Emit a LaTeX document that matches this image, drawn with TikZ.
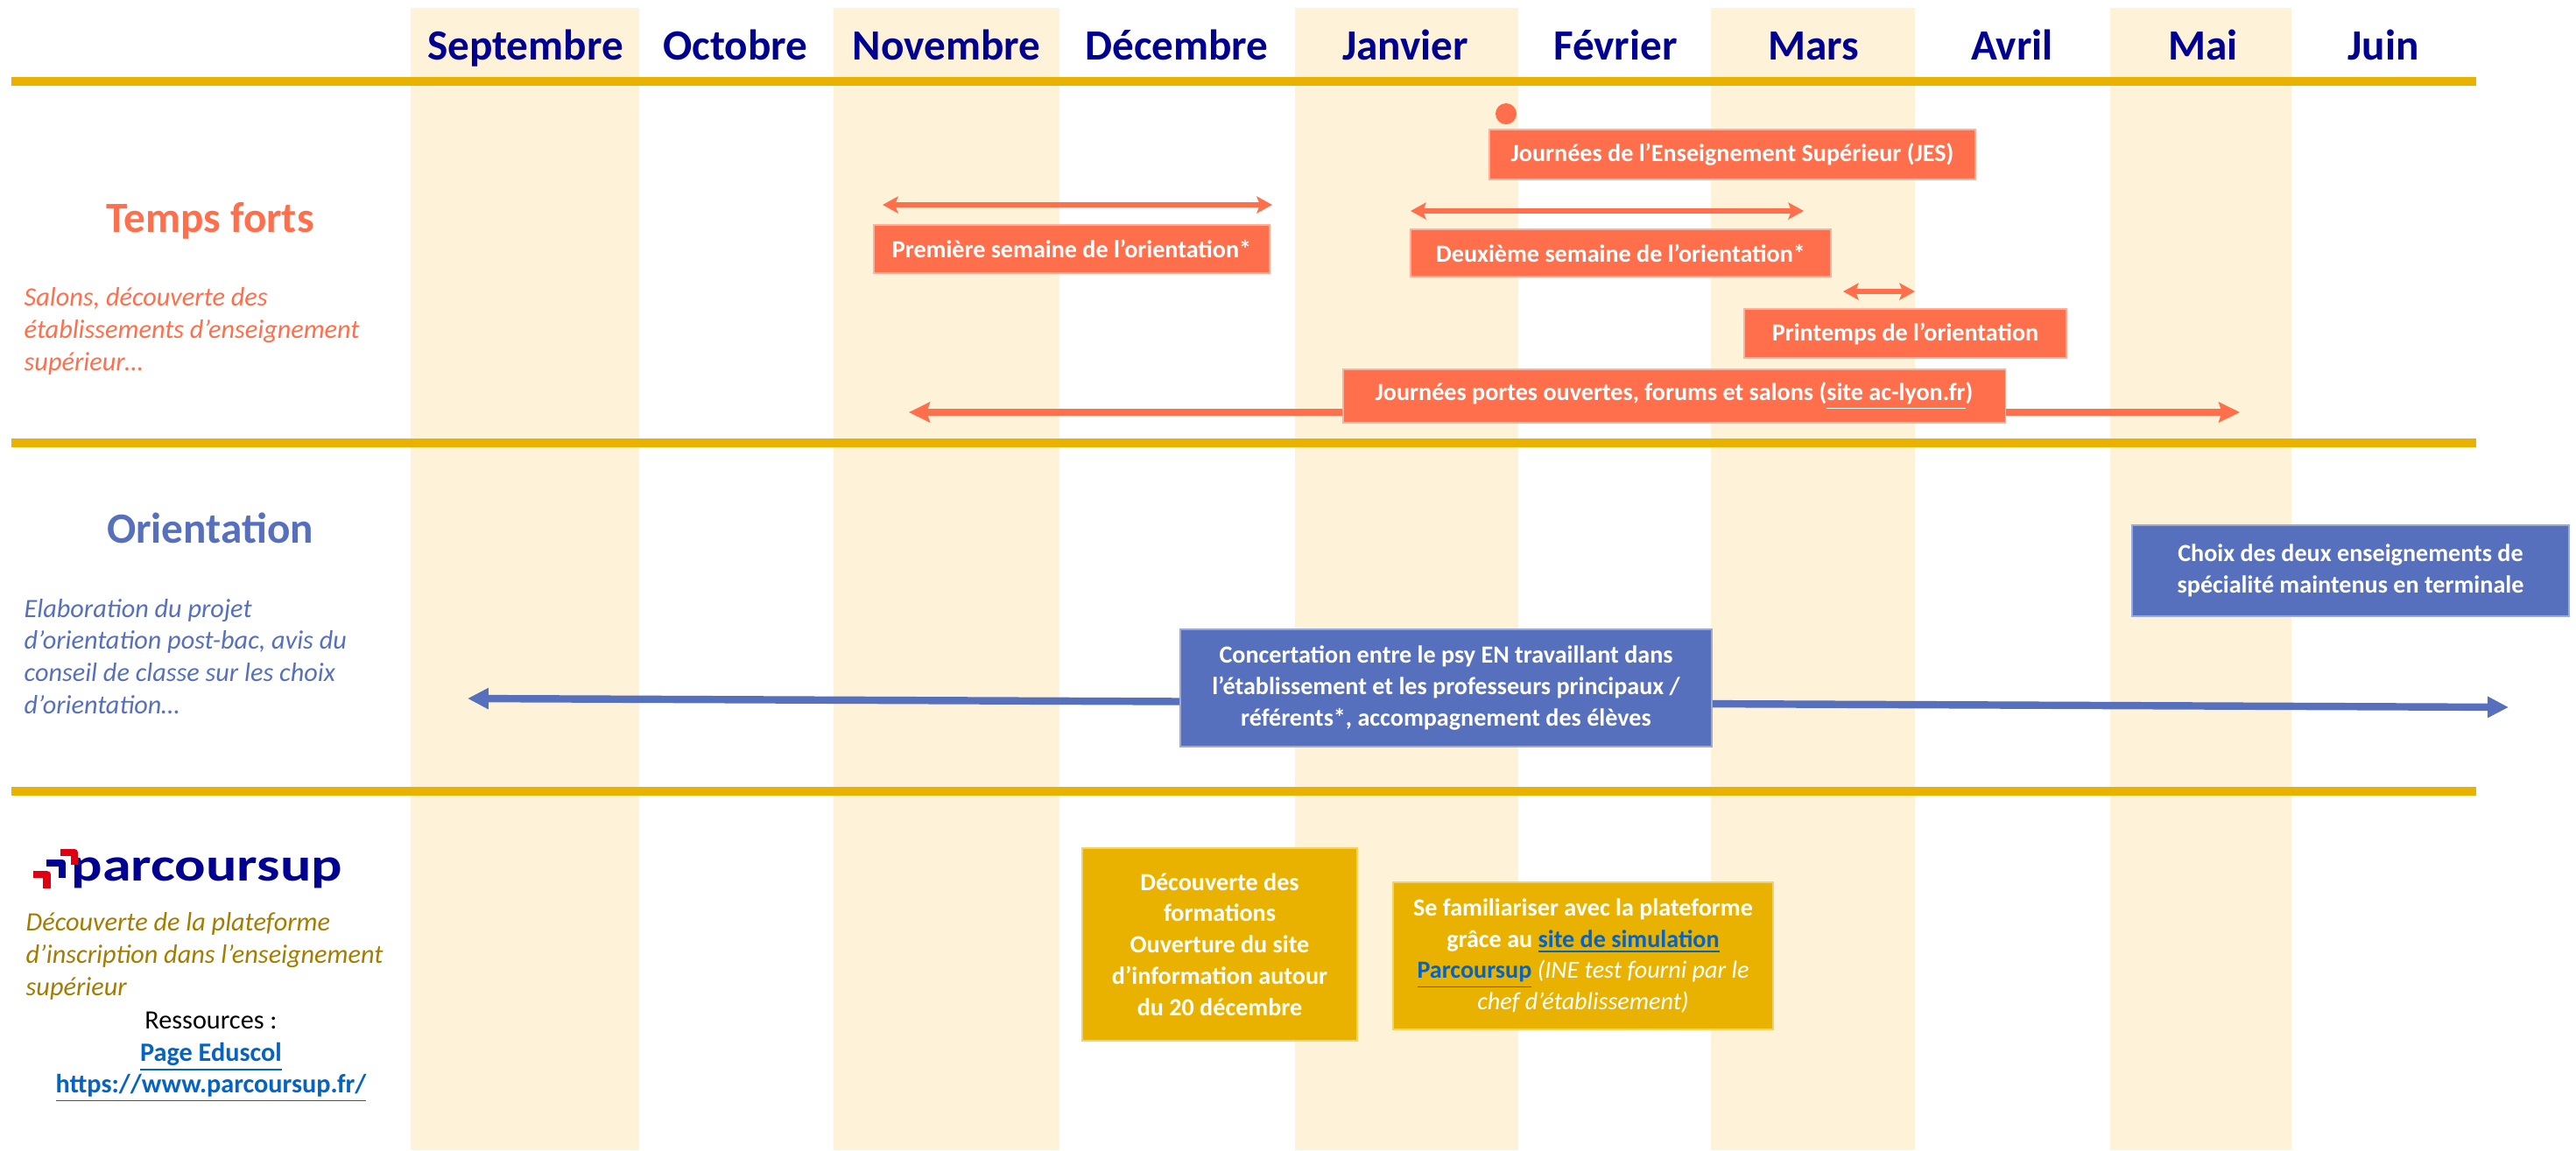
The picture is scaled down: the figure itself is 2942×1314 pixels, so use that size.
\documentclass[tikz,border=0pt]{standalone}
\usepackage{fontspec}
\setmainfont{Carlito}
\usetikzlibrary{arrows.meta}
\definecolor{jauneligne}{RGB}{234,178,0}
\definecolor{creme}{RGB}{254,243,216}
\definecolor{corail}{RGB}{255,111,76}
\definecolor{bleuori}{RGB}{87,112,190}
\definecolor{bleufr}{RGB}{0,0,145}
\definecolor{ocre}{RGB}{164,124,0}
\definecolor{lien}{RGB}{5,99,193}
\definecolor{rougefr}{RGB}{225,0,15}
\begin{document}
\begin{tikzpicture}[x=0.01cm,y=-0.01cm,
  regle/.style={draw=jauneligne,line width=2.6pt},
  mois/.style={anchor=base,inner sep=0pt,text=bleufr,font=\fontsize{14}{17}\selectfont\bfseries},
  titre/.style={anchor=base,inner sep=0pt,font=\fontsize{14}{17}\selectfont\bfseries},
  legende/.style={anchor=base west,inner sep=0pt,align=left,font=\fontsize{8.6}{10.4}\selectfont\itshape},
  boite/.style={inner sep=0pt,align=center,text=white,font=\fontsize{8}{10.2}\selectfont\bfseries},
  bcor/.style={boite,fill=corail,draw=corail!55!white,line width=0.4pt},
  bble/.style={boite,fill=bleuori,draw=bleuori!60!white,line width=0.4pt},
  bjau/.style={boite,fill=jauneligne,draw=jauneligne!60!white,line width=0.4pt},
  flcor/.style={draw=corail,line width=1.7pt,{Stealth[length=5pt,width=5.4pt,inset=1pt]}-{Stealth[length=5pt,width=5.4pt,inset=1pt]}},
  flsal/.style={draw=corail,line width=2.3pt,{Stealth[length=6.8pt,width=6.5pt,inset=1pt]}-{Stealth[length=6.8pt,width=6.5pt,inset=1pt]}},
  flble/.style={draw=bleuori,line width=2.4pt,{Triangle[length=6.8pt,width=6.5pt]}-{Triangle[length=6.8pt,width=6.5pt]}},
  crochet/.style={line width=2.4pt,line join=round}]
\useasboundingbox (0,0) rectangle (2942,1314);
\fill[white] (0,0) rectangle (2942,1314);

\fill[creme] (469,9) rectangle (730,1314);
\fill[creme] (952,9) rectangle (1210,1314);
\fill[creme] (1479,9) rectangle (1734,1314);
\fill[creme] (1954,9) rectangle (2187,1314);
\fill[creme] (2410,9) rectangle (2617,1314);

\path[draw,regle] (13,93) -- (2828,93);
\path[draw,regle] (13,506) -- (2828,506);
\path[draw,regle] (13,904) -- (2828,904);

\node[mois] (sep) at (600,68) {Septembre};
\node[mois] (oct) at (840,68) {Octobre};
\node[mois] (nov) at (1081,68) {Novembre};
\node[mois] (dec) at (1344,68) {Décembre};
\node[mois] (jan) at (1605,68) {Janvier};
\node[mois] (fev) at (1845,68) {Février};
\node[mois] (mar) at (2071,68) {Mars};
\node[mois] (avr) at (2298,68) {Avril};
\node[mois] (mai) at (2516,68) {Mai};
\node[mois] (jun) at (2722,68) {Juin};

\node[titre,text=corail] (tf) at (240,265) {Temps forts};
\node[legende,text=corail] (tf-txt) at (27,423) {Salons, découverte des\\établissements d’enseignement\\supérieur…};
\node[titre,text=bleuori] (ori) at (240,620) {Orientation};
\node[legende,text=bleuori] (ori-txt) at (27,815) {Elaboration du projet\\d’orientation post-bac, avis du\\conseil de classe sur les choix\\d’orientation…};

\node[anchor=base west,inner sep=0pt,text=bleufr,font=\fontsize{15.3}{18}\selectfont\bfseries] (logo) at (81,1006) {\scalebox{1.23}[1]{parcoursup}};
\draw[crochet,rougefr] (69,974) -- (85,974) -- (85,988);
\draw[crochet,bleufr] (53,986) -- (71,986) -- (71,1003);
\draw[crochet,rougefr] (38,999) -- (53.5,999) -- (53.5,1015);
\node[legende,text=ocre] (ps-txt) at (29,1137) {Découverte de la plateforme\\d’inscription dans l’enseignement\\supérieur};
\node[anchor=base,inner sep=0pt,font=\fontsize{8.6}{10.4}\selectfont] (res) at (241,1175) {Ressources :};
\node[anchor=base,inner sep=0pt,text=lien,font=\fontsize{8.6}{10.4}\selectfont\bfseries] (edu) at (241,1212) {\underline{Page Eduscol}};
\node[anchor=base,inner sep=0pt,text=lien,font=\fontsize{8.6}{10.4}\selectfont\bfseries] (url) at (241,1248) {\underline{https://www.parcoursup.fr/}};

\coordinate (pso-g) at (1008,234);
\coordinate (pso-d) at (1453,234);
\coordinate (dso-g) at (1611,241);
\coordinate (dso-d) at (2060,241);
\coordinate (pri-g) at (2105,333);
\coordinate (pri-d) at (2187,333);
\coordinate (jpo-g) at (1038,471);
\coordinate (jpo-d) at (2558,471);
\coordinate (con-g) at (534,798);
\coordinate (con-d) at (2865,808);

\draw[flcor] (pso-g) -- (pso-d);
\draw[flcor] (dso-g) -- (dso-d);
\draw[flcor] (pri-g) -- (pri-d);
\draw[flsal] (jpo-g) -- (jpo-d);
\draw[flble] (con-g) -- (con-d);

\node[circle,fill=corail,minimum size=0.24cm,inner sep=0pt] (jes-pt) at (1720,130) {};
\node[bcor,minimum width=5.55cm,minimum height=0.57cm] (jes) at (1978.5,176.5) {Journées de l’Enseignement Supérieur (JES)};
\node[bcor,minimum width=4.52cm,minimum height=0.55cm] (pso) at (1224,284.5) {Première semaine de l’orientation*};
\node[bcor,minimum width=4.80cm,minimum height=0.54cm] (dso) at (1851,289) {Deuxième semaine de l’orientation*};
\node[bcor,minimum width=3.68cm,minimum height=0.56cm] (pri) at (2176,381) {Printemps de l’orientation};
\node[bcor,minimum width=7.56cm,minimum height=0.61cm] (jpo) at (1912,452.5) {Journées portes ouvertes, forums et salons (\underline{site ac-lyon.fr})};

\node[bble,minimum width=6.07cm,minimum height=1.34cm] (con) at (1651.5,786) {Concertation entre le psy EN travaillant dans\\l’établissement et les professeurs principaux /\\référents*, accompagnement des élèves};
\node[bble,minimum width=4.99cm,minimum height=1.04cm] (spe) at (2684.5,652) {Choix des deux enseignements de\\spécialité maintenus en terminale};

\node[bjau,minimum width=3.14cm,minimum height=2.20cm] (form) at (1393,1079) {Découverte des\\formations\\Ouverture du site\\d’information autour\\du 20 décembre};
\node[bjau,minimum width=4.34cm,minimum height=1.68cm] (simu) at (1808,1092) {Se familiariser avec la plateforme\\grâce au {\color{lien}\underline{site de simulation}}\\{\color{lien}\underline{Parcoursup}} {\mdseries\itshape (INE test fourni par le}\\{\mdseries\itshape chef d’établissement)}};

\end{tikzpicture}
\end{document}
